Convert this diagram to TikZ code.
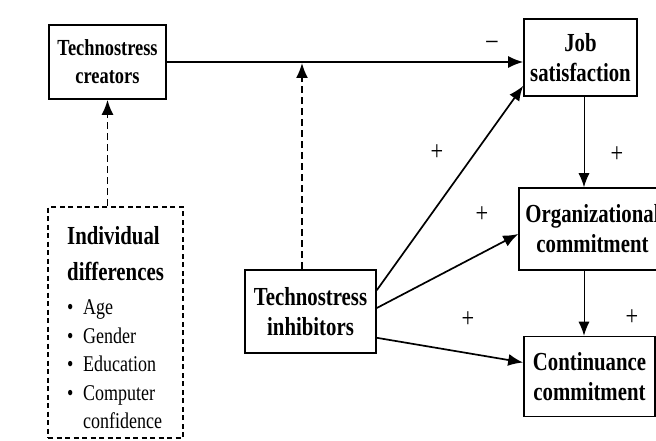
\documentclass[tikz,border=0pt]{standalone}
\usepackage{fontspec}
\setmainfont{Liberation Serif}[FakeStretch=0.8]
\usetikzlibrary{arrows.meta}
\usetikzlibrary{calc}

\tikzset{
  box/.style={draw, line width=1.6pt, align=center, inner sep=2pt,
    font=\bfseries\fontsize{26}{30}\selectfont},
  dashbox/.style={draw, line width=1.6pt, dash pattern=on 5pt off 3.5pt},
  link/.style={line width=1.7pt, -{Latex[length=15pt,width=12pt]}},
  thinlink/.style={line width=1pt, -{Latex[length=14pt,width=11pt]}},
  modlink/.style={line width=1.8pt, dash pattern=on 7pt off 4pt,
    -{Latex[length=15pt,width=12pt]}},
  sign/.style={font=\fontsize{28}{28}\selectfont, inner sep=0pt}
}
\newcommand{\itm}[1]{\makebox[16pt][l]{\textbullet}#1}

\begin{document}
\begin{tikzpicture}[x=1pt, y=-1pt]
	\useasboundingbox (0,0) rectangle (656,441);
	
	% boxes
	\node[box, minimum width=117pt, minimum height=74pt,
	  font=\bfseries\fontsize{23}{28}\selectfont] (creators) at (107.5,62) {Technostress\\creators};
	\node[box, minimum width=113pt, minimum height=77pt] (jobsat) at (580.5,57.5) {Job\\satisfaction};
	\node[box, minimum width=147pt, minimum height=82pt] (org) at (592.5,229) {Organizational\\commitment};
	\node[box, minimum width=131pt, minimum height=80pt] (cont) at (589.5,376.5) {Continuance\\commitment};
	\node[box, minimum width=131pt, minimum height=83pt] (inhib) at (310.5,311.5) {Technostress\\inhibitors};
	
	% individual differences, dashed box and its text
	\node[dashbox, minimum width=135pt, minimum height=231pt] (diff) at (115.5,322.5) {};
	\node[anchor=base west, inner sep=0pt] (difftext) at (67,244)
	  {\begin{minipage}[t]{110pt}
	   {\bfseries\fontsize{26}{36}\selectfont Individual\\differences\par}
	   \vspace{6pt}
	   \fontsize{22.5}{28.5}\selectfont
	   \itm{Age}\\\itm{Gender}\\\itm{Education}\\\itm{Computer}\\\makebox[16pt]{}confidence
	   \end{minipage}};
	
	% moderator point on the main path
	\coordinate (mod) at (302,62);
	
	% main paths
	\draw[link] (creators.east) -- (creators.east -| jobsat.west);
	\draw[link] ([yshift=-21pt]inhib.north east) -- ([yshift=11pt]jobsat.south west);
	\draw[link] ([yshift=3.5pt]inhib.east) -- ([yshift=-5pt]org.west);
	\draw[link] ([yshift=16pt]inhib.south east) -- ([yshift=14pt]cont.west);
	\draw[thinlink] ([xshift=3.5pt]jobsat.south) -- ([xshift=3.5pt]jobsat.south |- org.north);
	\draw[thinlink] ([xshift=-5.5pt]cont.north |- org.south) -- ([xshift=-5.5pt]cont.north);
	
	% dashed paths
	\draw[modlink] (diff.north -| creators.south) -- (creators.south);
	\draw[modlink, shorten >=1pt] (mod |- inhib.north) -- (mod);
	
	% signs
	\node[sign] (s1) at (492,45) {--};
	\node[sign] (s2) at (437,153) {+};
	\node[sign] (s3) at (482,215) {+};
	\node[sign] (s4) at (468,320) {+};
	\node[sign] (s5) at (617,155) {+};
	\node[sign] (s6) at (632,318) {+};
\end{tikzpicture}
\end{document}
